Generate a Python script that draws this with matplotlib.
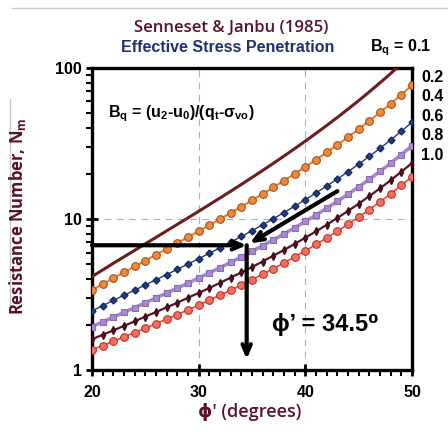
import matplotlib.pyplot as plt
from matplotlib.lines import Line2D

# friction angle (degrees) and resistance number Nm for each Bq curve
phi = list(range(20, 51))
bq_labels = ['0.1', '0.2', '0.4', '0.6', '0.8', '1.0']
nm_01 = [4.16, 4.60, 5.09, 5.62, 6.20, 6.85, 7.56, 8.35, 9.22, 10.18, 11.25, 12.45, 13.78, 15.27,
         16.95, 18.84, 20.97, 23.38, 26.12, 29.24, 32.82, 36.91, 41.63, 47.10, 53.44, 60.85,
         69.55, 79.80, 91.97, 106.5, 123.9]
nm_02 = [3.38, 3.71, 4.06, 4.44, 4.85, 5.31, 5.80, 6.34, 6.94, 7.59, 8.31, 9.11, 10.00, 10.98,
         12.08, 13.30, 14.67, 16.21, 17.95, 19.92, 22.16, 24.71, 27.64, 31.00, 34.87, 39.38,
         44.63, 50.78, 58.04, 66.64, 76.92]
nm_04 = [2.46, 2.67, 2.89, 3.13, 3.38, 3.66, 3.96, 4.29, 4.64, 5.03, 5.46, 5.93, 6.45, 7.03,
         7.66, 8.37, 9.16, 10.05, 11.04, 12.16, 13.44, 14.88, 16.52, 18.41, 20.57, 23.08,
         26.00, 29.40, 33.40, 38.13, 43.76]
nm_06 = [1.94, 2.08, 2.24, 2.41, 2.59, 2.79, 3.00, 3.24, 3.49, 3.76, 4.07, 4.40, 4.76, 5.17,
         5.61, 6.11, 6.66, 7.28, 7.98, 8.76, 9.64, 10.64, 11.78, 13.09, 14.59, 16.33,
         18.34, 20.69, 23.45, 26.70, 30.57]
nm_08 = [1.60, 1.71, 1.83, 1.96, 2.10, 2.26, 2.42, 2.60, 2.79, 3.01, 3.24, 3.49, 3.78, 4.09,
         4.43, 4.81, 5.23, 5.71, 6.24, 6.84, 7.52, 8.28, 9.16, 10.16, 11.30, 12.63,
         14.17, 15.96, 18.06, 20.55, 23.49]
nm_10 = [1.36, 1.45, 1.55, 1.66, 1.77, 1.89, 2.03, 2.17, 2.33, 2.50, 2.69, 2.90, 3.13, 3.38,
         3.66, 3.97, 4.31, 4.69, 5.13, 5.61, 6.16, 6.78, 7.49, 8.30, 9.23, 10.30,
         11.54, 12.99, 14.69, 16.70, 19.08]

# worked example
nm_measured = 6.7
phi_result = 34.5

fig = plt.figure(figsize=(4.48, 4.32), dpi=100)
ax = fig.add_axes([0.2054, 0.1435, 0.7143, 0.6991])

ax.plot(phi, nm_01, color='#6e1c1c', lw=2.2, zorder=3)
ax.plot(phi, nm_02, color='#f07a25', lw=1.5, marker='o', ms=5.5, mfc='#f08a3a', mec='#a85018', mew=0.8, zorder=3)
ax.plot(phi, nm_04, color='#213a78', lw=1.0, marker='D', ms=3.5, mfc='#1f3d8a', mec='#142a5c', zorder=3)
ax.plot(phi, nm_06, color='#a487cc', lw=2.5, marker='s', ms=5, mfc='#a98ad0', mec='#8a6bb8', mew=0.8, zorder=3)
ax.plot(phi, nm_08, color='#5a1426', lw=1.6, marker='d', ms=4, mfc='#5a1426', mec='#3a0a18', zorder=3)
ax.plot(phi, nm_10, color='#e8453a', lw=1.2, marker='o', ms=5.5, mfc='#f2705e', mec='#d02a20', mew=0.8, zorder=3)

ax.set_yscale('log')
ax.set_xlim(20, 50)
ax.set_ylim(1, 100)
ax.set_xticks([20, 30, 40, 50])
ax.set_xticks(range(20, 51), minor=True)
ax.set_yticks([1, 10, 100])
ax.set_yticklabels(['1', '10', '100'])
ax.grid(True, which='major', color='#b0b0b0', ls=(0, (6, 5)), lw=0.8)

for s in ax.spines.values():
    s.set_linewidth(2.4)
ax.tick_params(which='major', direction='inout', length=9, width=2, labelsize=11.5)
ax.tick_params(which='minor', direction='out', length=4, width=1.5)
ax.tick_params(axis='x', pad=6)
ax.tick_params(axis='y', pad=3)
for lab in ax.get_xticklabels() + ax.get_yticklabels():
    lab.set_fontweight('bold')
    lab.set_family('Liberation Sans')

# arrows: measured Nm -> phi'
arr = dict(arrowstyle='->,head_length=0.7,head_width=0.3', lw=3, color='black', shrinkA=0, shrinkB=0)
ax.annotate('', xy=(phi_result, nm_measured), xytext=(20, nm_measured), arrowprops=arr, zorder=5)
ax.annotate('', xy=(phi_result, 1.18), xytext=(phi_result, nm_measured), arrowprops=arr, zorder=5)
ax.annotate('', xy=(phi_result + 0.3, nm_measured + 0.2), xytext=(43, 15.3), arrowprops=arr, zorder=5)

ax.text(36.9, 2.0, 'ϕ’ = 34.5⁰', fontsize=17, fontweight='bold', va='center',
        family=['Liberation Sans', 'DejaVu Sans'])
ax.text(21.5, 50, 'B$_\\mathregular{q}$ = (u$_\\mathregular{2}$-u$_\\mathregular{0}$)/(q$_\\mathregular{t}$-σ$_\\mathregular{vo}$)',
        fontsize=11.5, fontweight='bold', family='Liberation Sans', va='center')

# titles and labels
fig.text(0.516, 0.935, 'Senneset & Janbu (1985)', ha='center', va='center', fontsize=12,
         color='#5a1030', family='Open Sans', fontweight='semibold')
fig.text(0.508, 0.889, 'Effective Stress Penetration', ha='center', va='center', fontsize=11.5,
         color='#1f2f7a', family='Liberation Sans', fontweight='bold')
fig.text(0.893, 0.889, 'B$_\\mathregular{q}$ = 0.1', ha='center', va='center', fontsize=11.5,
         family='Liberation Sans', fontweight='bold')
for i, lab in enumerate(bq_labels[1:]):
    fig.text(0.94, 1 - (77 + 19.5 * i) / 432, lab, ha='left', va='center', fontsize=11.5,
             family='Liberation Sans', fontweight='bold')

fig.text(0.04, 0.5, 'Resistance Number, N$_\\mathregular{m}$', rotation=90, ha='center', va='center',
         fontsize=12, color='#5a1030', family='Open Sans', fontweight='bold')
fig.text(0.558, 0.047, 'ϕ\' (degrees)', ha='center', va='center', fontsize=13,
         color='#5a1030', family=['Open Sans', 'DejaVu Sans'], fontweight='semibold')

# faint frame lines of the original slide
fig.add_artist(Line2D([0.027, 1.0], [0.981, 0.981], color='#c8c8c8', lw=1))
fig.add_artist(Line2D([0.022, 0.022], [0.28, 0.77], color='#c8c8c8', lw=1))

fig.savefig('out.png', dpi=100)
